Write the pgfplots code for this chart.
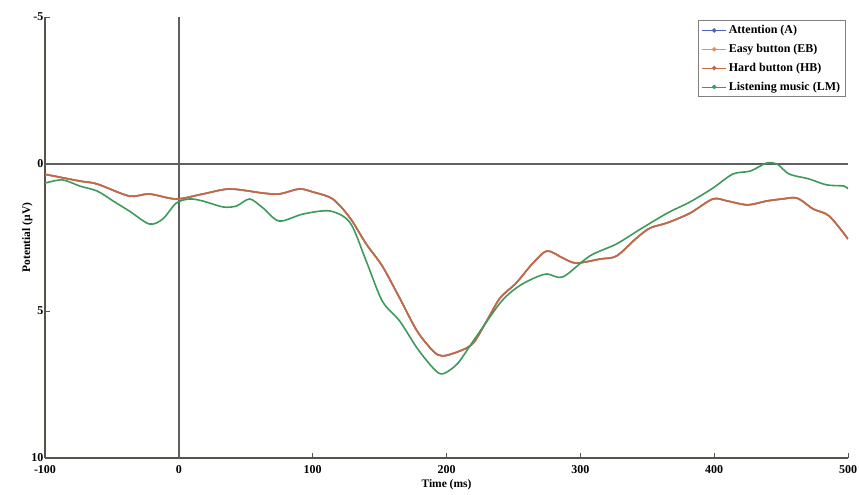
\documentclass[border=0pt]{standalone}
\usepackage{fontspec}
\setmainfont{Liberation Serif}
\usepackage{pgfplots}
\pgfplotsset{compat=1.18}
\definecolor{cA}{HTML}{4A62C0}
\definecolor{cEB}{HTML}{F08A5C}
\definecolor{cHB}{HTML}{C06A45}
\definecolor{cLM}{HTML}{3E9A5C}
\definecolor{axc}{HTML}{58524D}
\begin{document}
\begin{tikzpicture}
\path[use as bounding box] (-45pt,-37pt) rectangle (814pt,458pt);
\begin{axis}[
  at={(0,0)}, anchor=south west,
  scale only axis, width=803pt, height=441pt,
  xmin=-100, xmax=500, ymin=-5, ymax=10,
  y dir=reverse,
  axis x line=bottom, axis y line=left,
  axis line style={axc, line width=1.1pt, -},
  tick style={axc, line width=1pt},
  tick align=inside,
  major tick length=5pt,
  xtick={-100,0,100,200,300,400,500},
  xticklabels={-100,0,100,200,300,400,500},
  ytick={-5,0,5,10},
  yticklabels={-5,0,5,10},
  tick label style={font=\bfseries\fontsize{12}{13}\selectfont},
  xticklabel style={yshift=-6pt, inner sep=1pt},
  yticklabel style={xshift=2pt},
  xlabel={Time (ms)}, ylabel={Potential (µV)},
  label style={font=\bfseries\fontsize{11.5}{12}\selectfont},
  xlabel style={yshift=-2pt},
  ylabel style={yshift=-8pt},
  legend style={at={(0.997,0.993)}, anchor=north east, draw=gray, line width=0.9pt,
    font=\bfseries\fontsize{12}{14}\selectfont, row sep=5pt, inner sep=3pt},
  legend cell align=left,
  legend image code/.code={\draw[#1, line width=0.8pt] (0cm,0cm) -- (0.85cm,0cm); \fill[#1] (0.42cm,0cm) circle (1.3pt);},
]
\draw[gray!75!black, line width=1.4pt] (axis cs:-100,0) -- (axis cs:500,0);
\draw[gray!75!black, line width=1.4pt] (axis cs:0,-5) -- (axis cs:0,10);
\addplot[cA, line width=1.6pt, smooth] coordinates {
(-100,0.35) (-74,0.58) (-61,0.68) (-37,1.09) (-22,1.02) (-2,1.19) (18,1.02) (38,0.85) (63,0.99) (75,1.02) (90,0.85) (100,0.95) (115,1.19) (128,1.84) (140,2.72) (152,3.47) (165,4.56) (178,5.68) (190,6.36) (197,6.53) (210,6.36) (220,6.09) (230,5.34) (240,4.56) (252,4.05) (264,3.4) (275,2.96) (287,3.2) (297,3.37) (315,3.23) (327,3.13) (342,2.52) (352,2.18) (365,2.0) (382,1.67) (399,1.19) (410,1.26) (425,1.39) (439,1.26) (451,1.19) (462,1.16) (474,1.53) (486,1.77) (500,2.55)};
\addlegendentry{Attention (A)}
\addplot[cEB, line width=1.6pt, smooth] coordinates {
(-100,0.35) (-74,0.58) (-61,0.68) (-37,1.09) (-22,1.02) (-2,1.19) (18,1.02) (38,0.85) (63,0.99) (75,1.02) (90,0.85) (100,0.95) (115,1.19) (128,1.84) (140,2.72) (152,3.47) (165,4.56) (178,5.68) (190,6.36) (197,6.53) (210,6.36) (220,6.09) (230,5.34) (240,4.56) (252,4.05) (264,3.4) (275,2.96) (287,3.2) (297,3.37) (315,3.23) (327,3.13) (342,2.52) (352,2.18) (365,2.0) (382,1.67) (399,1.19) (410,1.26) (425,1.39) (439,1.26) (451,1.19) (462,1.16) (474,1.53) (486,1.77) (500,2.55)};
\addlegendentry{Easy button (EB)}
\addplot[cHB, line width=1.6pt, smooth] coordinates {
(-100,0.35) (-74,0.58) (-61,0.68) (-37,1.09) (-22,1.02) (-2,1.19) (18,1.02) (38,0.85) (63,0.99) (75,1.02) (90,0.85) (100,0.95) (115,1.19) (128,1.84) (140,2.72) (152,3.47) (165,4.56) (178,5.68) (190,6.36) (197,6.53) (210,6.36) (220,6.09) (230,5.34) (240,4.56) (252,4.05) (264,3.4) (275,2.96) (287,3.2) (297,3.37) (315,3.23) (327,3.13) (342,2.52) (352,2.18) (365,2.0) (382,1.67) (399,1.19) (410,1.26) (425,1.39) (439,1.26) (451,1.19) (462,1.16) (474,1.53) (486,1.77) (500,2.55)};
\addlegendentry{Hard button (HB)}
\addplot[cLM, line width=1.6pt, smooth] coordinates {
(-100,0.65) (-87,0.54) (-74,0.75) (-61,0.92) (-49,1.26) (-37,1.6) (-22,2.04) (-12,1.87) (-2,1.33) (8,1.19) (18,1.26) (33,1.46) (43,1.43) (53,1.19) (63,1.5) (75,1.94) (93,1.7) (113,1.6) (128,2.0) (140,3.3) (152,4.66) (165,5.34) (178,6.26) (190,6.94) (197,7.14) (208,6.8) (220,6.02) (240,4.73) (252,4.22) (264,3.91) (275,3.74) (287,3.84) (307,3.13) (327,2.72) (344,2.24) (365,1.67) (382,1.29) (399,0.82) (414,0.34) (427,0.24) (439,-0.03) (447,0.0) (456,0.34) (471,0.51) (484,0.71) (497,0.75) (500,0.85)};
\addlegendentry{Listening music (LM)}
\end{axis}
\end{tikzpicture}
\end{document}
